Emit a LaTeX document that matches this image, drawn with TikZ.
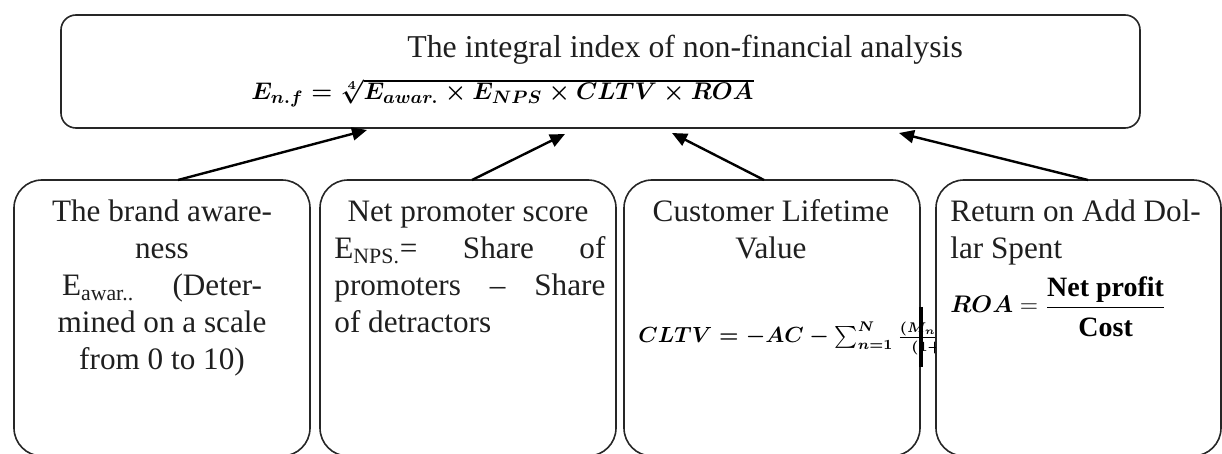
\documentclass[tikz,border=0pt]{standalone}
\usepackage{fontspec}
\setmainfont{Liberation Serif}
\usepackage{amsmath}
\usetikzlibrary{arrows.meta}
\tikzset{
  px/.style={x=0.5pt,y=-0.5pt},
  frame/.style={draw=black!85,line width=0.8pt,rounded corners=7.5pt},
  bframe/.style={draw=black!85,line width=0.8pt,rounded corners=14pt},
  link/.style={line width=1.2pt,-{Triangle[length=7.5pt,width=6.5pt]}},
  txt/.style={inner sep=0pt,font=\fontsize{15.6}{18}\selectfont,text=black!88},
  ttl/.style={inner sep=0pt,font=\fontsize{15.9}{18}\selectfont,text=black!88},
  eq/.style={inner sep=0pt,font=\fontsize{12.3}{15}\selectfont},
  eqr/.style={inner sep=0pt,font=\fontsize{12}{15}\selectfont},
  eqs/.style={inner sep=0pt,font=\fontsize{10.5}{13}\selectfont},
}
\begin{document}
\begin{tikzpicture}[px]
\useasboundingbox (0,0) rectangle (1222,454);
% top box
\draw[frame] (61,15) rectangle (1140,128);
\coordinate (top1) at (367,130);
\coordinate (top2) at (565,134);
\coordinate (top3) at (672,133);
\coordinate (top4) at (899,133);
\node[ttl,anchor=base west] (title) at (407,58) {The integral index of non-financial analysis};
\node[eq,anchor=base west] (enf) at (251,100) {$\boldsymbol{E_{n.f}=\sqrt[4]{E_{awar.}\times E_{NPS}\times CLTV\times ROA}}$};
% bottom boxes
\draw[bframe] (14,180) rectangle (310,456);
\draw[bframe] (320,180) rectangle (616,456);
\draw[bframe] (624,180) rectangle (920,456);
\draw[bframe] (936,180) rectangle (1221,456);
\coordinate (b1) at (178,180);
\coordinate (b2) at (472,180);
\coordinate (b3) at (764,180);
\coordinate (b4) at (1088,180);
% box 1
\node[txt,anchor=base] (t11) at (162,222) {The brand aware-};
\node[txt,anchor=base] (t12) at (162,259) {ness};
\node[txt,anchor=base] (t13) at (162,296) {\hbox to 100pt{E\textsubscript{awar..}\hfill(Deter-}};
\node[txt,anchor=base] (t14) at (162,333) {mined on a scale};
\node[txt,anchor=base] (t15) at (162,370) {from 0 to 10)};
% box 2
\node[txt,anchor=base] (t21) at (468,222) {Net promoter score};
\node[txt,anchor=base west] (t22) at (334,259) {\hbox to 135.5pt{E\textsubscript{NPS.}=\hfill Share\hfill of}};
\node[txt,anchor=base west] (t23) at (334,296) {\hbox to 135.5pt{promoters\hfill --\hfill Share}};
\node[txt,anchor=base west] (t24) at (334,333) {of detractors};
% box 3
\node[txt,anchor=base] (t31) at (771,222) {Customer Lifetime};
\node[txt,anchor=base] (t32) at (771,259) {Value};
\begin{scope}
\clip (624,290) rectangle (935,380);
\node[eqs,anchor=base west] (cltv) at (638,343) {$\boldsymbol{CLTV=-AC-\sum_{n=1}^{N}\frac{(M_n-C_n)}{(1+d)^n}}$};
\end{scope}
\draw[line width=1.6pt] (921,307) -- (921,367);
% box 4
\node[txt,anchor=base west] (t41) at (950,222) {Return on Add Dol-};
\node[txt,anchor=base west] (t42) at (950,259) {lar Spent};
\node[eqr,anchor=base west] (roa) at (950,313) {$\boldsymbol{ROA}=\dfrac{\text{\fontsize{14}{15}\selectfont\bfseries Net profit\rule[-3pt]{0pt}{3pt}}}{\text{\fontsize{14}{15}\selectfont\bfseries\rule{0pt}{13pt}Cost}}$};
% arrows
\draw[link] (b1) -- (top1);
\draw[link] (b2) -- (top2);
\draw[link] (b3) -- (top3);
\draw[link] (b4) -- (top4);
\end{tikzpicture}
\end{document}
